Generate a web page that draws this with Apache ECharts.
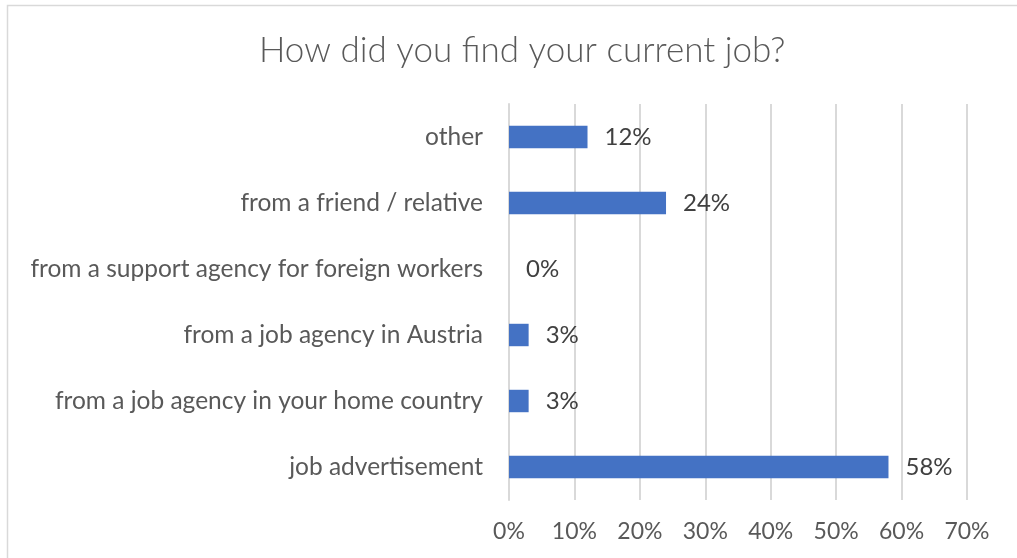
<!DOCTYPE html>
<html>
<head>
<meta charset="utf-8">
<script src="https://cdn.jsdelivr.net/npm/echarts@6/dist/echarts.min.js"></script>
<style>
  html, body { margin: 0; padding: 0; background: #ffffff; }
  #chart { width: 1017px; height: 558px; }
</style>
</head>
<body>
<div id="chart"></div>
<script>
// Answers, listed bottom to top as they appear on the category axis
const categories = [
  'job advertisement',
  'from a job agency in your home country',
  'from a job agency in Austria',
  'from a support agency for foreign workers',
  'from a friend / relative',
  'other'
];
const shares = [58, 3, 3, 0, 24, 12];
const tickValues = [0, 10, 20, 30, 40, 50, 60, 70];

const FONT = 'Lato, "Open Sans", sans-serif';

const chart = echarts.init(document.getElementById('chart'), null, { renderer: 'canvas' });

chart.setOption({
  animation: false,
  backgroundColor: '#ffffff',
  title: {
    text: 'How did you find your current job?',
    left: 254,
    top: 28,
    textStyle: {
      fontFamily: FONT,
      fontSize: 35,
      fontWeight: 300,
      color: '#595959'
    }
  },
  graphic: [{
    type: 'rect',
    shape: { x: 7.5, y: 5.5, width: 1100, height: 700 },
    style: { fill: 'none', stroke: '#d9d9d9', lineWidth: 1.5 },
    silent: true,
    z: -1
  }],
  grid: {
    left: 509,
    right: 50,
    top: 104,
    bottom: 58,
    containLabel: false
  },
  xAxis: {
    type: 'value',
    min: tickValues[0],
    max: tickValues[tickValues.length - 1],
    interval: 10,
    axisLine: { show: false },
    axisTick: { show: false },
    splitLine: { show: true, lineStyle: { color: '#d9d9d9', width: 2 } },
    axisLabel: {
      formatter: v => v + '%',
      fontFamily: FONT,
      fontSize: 23,
      color: '#595959',
      margin: 20
    }
  },
  yAxis: {
    type: 'category',
    data: categories,
    axisLine: { show: true, lineStyle: { color: '#d9d9d9', width: 2 } },
    axisTick: { show: false },
    axisLabel: {
      fontFamily: FONT,
      fontSize: 24.5,
      color: '#595959',
      margin: 26
    }
  },
  series: [{
    type: 'bar',
    data: shares,
    barWidth: '34%',
    itemStyle: { color: '#4472c4' },
    label: {
      show: true,
      position: 'right',
      distance: 17,
      formatter: p => p.value + '%',
      fontFamily: FONT,
      fontSize: 24,
      color: '#404040'
    }
  }]
});
</script>
</body>
</html>
